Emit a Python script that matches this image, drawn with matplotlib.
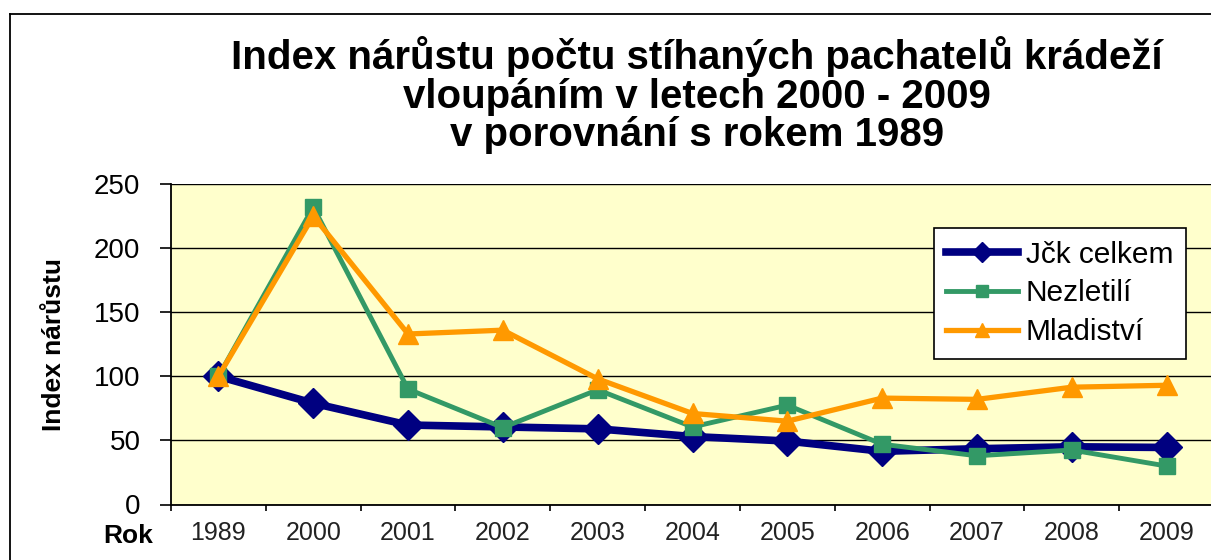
import matplotlib
matplotlib.use("Agg")
import matplotlib.pyplot as plt
from matplotlib.lines import Line2D

# roky a indexy (1989 = 100)
roky = ["1989", "2000", "2001", "2002", "2003", "2004", "2005", "2006", "2007", "2008", "2009"]
jck_celkem = [100, 79, 62, 60.5, 59, 53, 49.5, 41.5, 43.5, 45, 44.5]
nezletili = [100, 232, 90, 60, 89.5, 60.5, 77.5, 47, 38, 42.5, 30]
mladistvi = [100, 225, 133, 136, 98, 71, 65, 83, 82, 91.5, 93]

plt.rcParams['font.family'] = ['Liberation Sans', 'DejaVu Sans']

W, H = 1211, 560
fig = plt.figure(figsize=(W / 100, H / 100), dpi=100)
fig.patch.set_facecolor("white")

# ramecek grafu (vlevo a nahore, zbytek je oriznuty)
fig.add_artist(Line2D([10 / W, 10 / W], [0, 1 - 14 / H], color="black", lw=1.3,
                      transform=fig.transFigure))
fig.add_artist(Line2D([10 / W, 1], [1 - 14 / H, 1 - 14 / H], color="black", lw=1.3,
                      transform=fig.transFigure))

left, right, top, bottom = 171, 1214, 184, 504.5
ax = fig.add_axes([left / W, (H - bottom) / H, (right - left) / W, (bottom - top) / H])
ax.set_facecolor("#FFFFCC")

x = list(range(len(roky)))
ax.plot(x, jck_celkem, color="#000080", lw=5.5, marker="D", markersize=15,
        label="Jčk celkem", zorder=3)
ax.plot(x, nezletili, color="#339966", lw=3.5, marker="s", markersize=12,
        label="Nezletilí", zorder=4)
ax.plot(x, mladistvi, color="#FF9900", lw=3.8, marker="^", markersize=14,
        label="Mladiství", zorder=5)

ax.set_xlim(-0.5, len(roky) - 0.5)
ax.set_ylim(0, 250)
ax.set_yticks([0, 50, 100, 150, 200, 250])
ax.yaxis.grid(True, color="black", lw=1.0)
ax.set_axisbelow(True)

ax.set_xticks(x)
ax.set_xticklabels(roky, fontsize=18, color="#222222")
ax.set_xticks([i + 0.5 for i in range(-1, len(roky))], minor=True)
ax.tick_params(axis="x", which="major", length=0, pad=12)
ax.tick_params(axis="x", which="minor", length=4.5, width=1.2, direction="out")
ax.tick_params(axis="y", length=8, width=1.2, direction="out", labelsize=20, pad=14)

for s in ["top", "right"]:
    ax.spines[s].set_visible(False)
for s in ["left", "bottom"]:
    ax.spines[s].set_linewidth(1.3)

ax.set_ylabel("Index nárůstu", fontsize=19, fontweight="bold", labelpad=20)
fig.text(103 / W, 1 - 536 / H, "Rok", fontsize=19, fontweight="bold", va="center")

fig.text(697 / W, 1 - 95 / H,
         "Index nárůstu počtu stíhaných pachatelů krádeží\nvloupáním v letech 2000 - 2009\nv porovnání s rokem 1989",
         ha="center", va="center", fontsize=29, fontweight="bold", linespacing=1.01)

leg = ax.legend(loc="upper left", bbox_to_anchor=(0.7315, 0.8627), fontsize=21.5,
                frameon=True, fancybox=False, edgecolor="black", framealpha=1,
                handlelength=2.4, handletextpad=0.25, labelspacing=0.36, borderpad=0.42,
                borderaxespad=0, markerscale=0.7)
leg.get_frame().set_linewidth(1.2)

fig.savefig("out.png", dpi=100)
